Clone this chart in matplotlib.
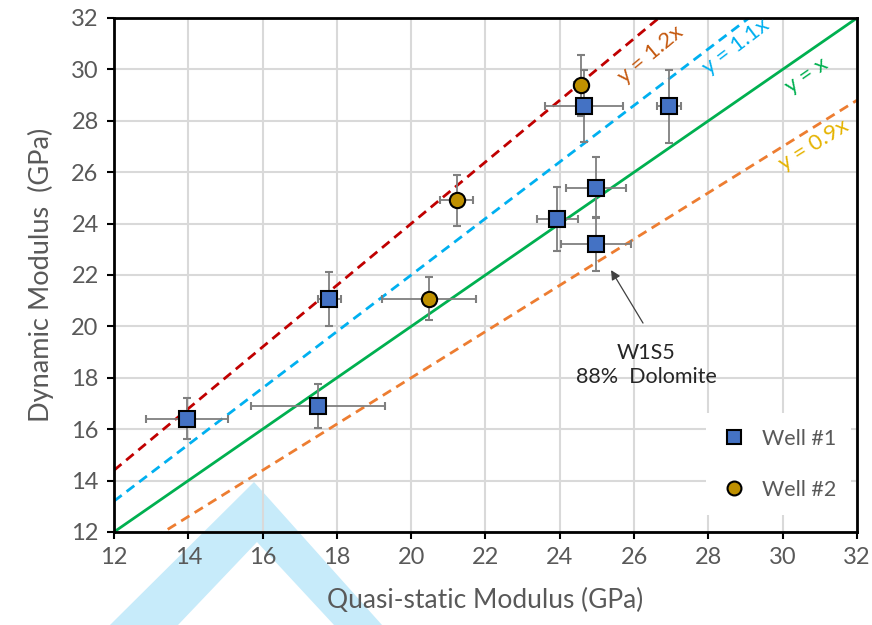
import numpy as np
import matplotlib.pyplot as plt
from matplotlib.patches import Polygon
from matplotlib.lines import Line2D

plt.rcParams['font.family'] = ['Lato', 'DejaVu Sans']

# Well #1 (squares)
w1_x = [13.97, 17.8, 17.49, 23.93, 24.97, 24.97, 24.66, 26.94]
w1_y = [16.4, 21.07, 16.9, 24.17, 25.4, 23.2, 28.57, 28.57]
w1_xerr = [1.1, 0.3, 1.8, 0.55, 0.8, 0.95, 1.05, 0.33]
w1_yerr = [0.8, 1.05, 0.85, 1.25, 1.2, 1.05, 1.4, 1.42]

# Well #2 (circles)
w2_x = [24.57, 21.22, 20.48]
w2_y = [29.38, 24.9, 21.08]
w2_xerr = [0.2, 0.45, 1.26]
w2_yerr = [1.18, 1.0, 0.85]

# reference lines y = k * x
ratios = [1.2, 1.1, 1.0, 0.9]
ratio_labels = ['y = 1.2x', 'y = 1.1x', 'y = x', 'y = 0.9x']
line_colors = ['#C00000', '#00B0F0', '#00B050', '#ED7D31']
line_styles = ['--', '--', '-', '--']
label_colors = ['#C55A11', '#00B0F0', '#00B050', '#E5B300']
label_xy = [(26.45, 30.6), (28.75, 30.9), (30.65, 29.75), (30.85, 27.05)]

ticks = list(range(12, 33, 2))
gray = '#595959'

fig = plt.figure(figsize=(8.72, 6.25), dpi=100)
fig.patch.set_facecolor('white')
ax = fig.add_axes([0.1307, 0.1488, 0.8521, 0.8224])
ax.patch.set_alpha(0)
ax.set_zorder(2)

# faint chevron in the background of the original picture
chev = [(110, 625), (254, 482), (382, 625), (334, 625), (257, 542), (178, 625)]
fig.patches.append(Polygon([(px / 872, 1 - py / 625) for px, py in chev],
                           closed=True, transform=fig.transFigure,
                           facecolor='#C7EBFA', edgecolor='none', zorder=0))

xs = np.linspace(12, 32, 200)
for k, ls, c in zip(ratios, line_styles, line_colors):
    ax.plot(xs, k * xs, linestyle=ls, color=c, linewidth=2,
            dashes=(3.5, 2.2) if ls == '--' else (None, None), zorder=2)

# rotated labels along the lines (angle on screen)
for (lx, ly), k, txt, c in zip(label_xy, ratios, ratio_labels, label_colors):
    ang = np.degrees(np.arctan(k * 514 / 743))
    ax.text(lx, ly, txt, color=c, fontsize=16, rotation=ang,
            ha='center', va='center', zorder=3)

ax.errorbar(w1_x, w1_y, xerr=w1_xerr, yerr=w1_yerr, fmt='s', color='#7F7F7F',
            ecolor='#7F7F7F', elinewidth=1.3, capsize=3, capthick=1.3,
            markerfacecolor='#4472C4', markeredgecolor='black', markeredgewidth=1.5,
            markersize=11, zorder=4)
ax.errorbar(w2_x, w2_y, xerr=w2_xerr, yerr=w2_yerr, fmt='o', color='#7F7F7F',
            ecolor='#7F7F7F', elinewidth=1.3, capsize=3, capthick=1.3,
            markerfacecolor='#BF9000', markeredgecolor='black', markeredgewidth=1.5,
            markersize=11, zorder=4)

ax.annotate('', xy=(25.38, 22.19), xytext=(26.24, 20.13),
            arrowprops=dict(arrowstyle='-|>', color='#404040', lw=0.9,
                            shrinkA=0, shrinkB=0, mutation_scale=14), zorder=5)
ax.text(26.32, 18.5, 'W1S5\n88%  Dolomite', ha='center', va='center',
        fontsize=15.5, color='#262626', linespacing=1.2, zorder=5)

ax.set_xlim(12, 32)
ax.set_ylim(12, 32)
ax.set_xticks(ticks)
ax.set_yticks(ticks)
ax.grid(True, color='#D9D9D9', linewidth=1.5, zorder=1)
ax.set_axisbelow(True)
for s in ax.spines.values():
    s.set_color('black')
    s.set_linewidth(2)
ax.tick_params(direction='out', length=5, width=1.5, color='black',
               labelsize=17, labelcolor=gray, pad=6)

ax.set_xlabel('Quasi-static Modulus (GPa)', fontsize=19, color=gray, labelpad=14)
ax.set_ylabel('Dynamic Modulus  (GPa)', fontsize=19.5, color=gray, labelpad=12)

handles = [
    Line2D([], [], linestyle='none', marker='s', markersize=9.5,
           markerfacecolor='#4472C4', markeredgecolor='black', markeredgewidth=1.5),
    Line2D([], [], linestyle='none', marker='o', markersize=10,
           markerfacecolor='#BF9000', markeredgecolor='black', markeredgewidth=1.5),
]
leg = ax.legend(handles, ['Well #1', 'Well #2'], loc='lower right',
                bbox_to_anchor=(0.998, 0.025), frameon=True,
                fontsize=15.5, labelspacing=1.45, handletextpad=0.7, handlelength=1.2,
                borderpad=0.7, borderaxespad=0.2, fancybox=False)
leg.get_frame().set_edgecolor('none')
leg.get_frame().set_facecolor('white')
leg.get_frame().set_alpha(1)
for t in leg.get_texts():
    t.set_color(gray)

fig.savefig('out.png', dpi=100)
